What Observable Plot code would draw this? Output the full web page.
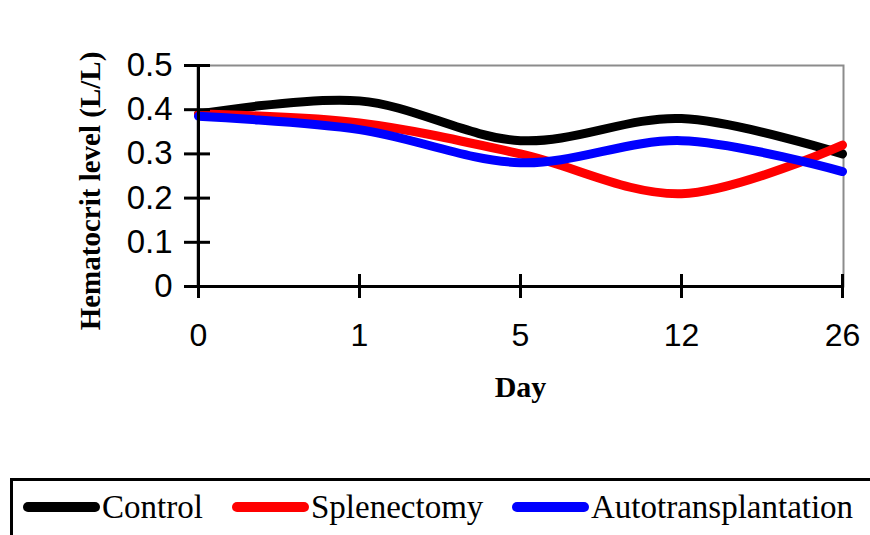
<!DOCTYPE html>
<html>
<head>
<meta charset="utf-8">
<script src="https://cdn.jsdelivr.net/npm/d3@7"></script>
<script src="https://cdn.jsdelivr.net/npm/@observablehq/plot@0.6"></script>
<style>
  html, body { margin: 0; padding: 0; background: #fff; }
  #wrap { position: relative; width: 870px; height: 535px; overflow: hidden; }
  #legend { position: absolute; left: 10px; top: 478px; width: 880px; height: 80px;
            border: 3px solid #000; box-sizing: border-box; }
  .item { position: absolute; top: 6px; height: 40px; display: flex; align-items: center;
          font-family: "Liberation Serif", "Times New Roman", serif; font-size: 33px; color: #000; }
  .sw { width: 77px; height: 10px; border-radius: 5px; margin-right: 2px; }
</style>
</head>
<body>
<div id="wrap"><div id="chart"></div><div id="legend"></div></div>
<script>
const days = ["0", "1", "5", "12", "26"];
const seriesNames = ["Control", "Splenectomy", "Autotransplantation"];
const seriesColors = ["#000000", "#ff0000", "#0000ff"];
const control = [0.39, 0.42, 0.33, 0.38, 0.30];
const splenectomy = [0.39, 0.37, 0.30, 0.21, 0.32];
const autotransplantation = [0.385, 0.355, 0.28, 0.33, 0.26];
const yTicks = [0, 0.1, 0.2, 0.3, 0.4, 0.5];
const yLabel = "Hematocrit level (L/L)";
const xLabel = "Day";

const values = [control, splenectomy, autotransplantation];
const rows = [];
seriesNames.forEach((s, i) => days.forEach((d, j) => rows.push({series: s, day: d, value: values[i][j]})));

const chart = Plot.plot({
  width: 870,
  height: 470,
  marginLeft: 197,
  marginRight: 27,
  marginTop: 65,
  marginBottom: 184,
  style: {fontFamily: "'Liberation Sans', Arial, sans-serif", fontSize: "31px", color: "#000", background: "#fff"},
  x: {type: "point", domain: days, padding: 0},
  y: {domain: [0, 0.5]},
  color: {domain: seriesNames, range: seriesColors},
  marks: [
    Plot.frame({stroke: "#8c8c8c", strokeWidth: 2}),
    Plot.lineY(rows, {x: "day", y: "value", z: "series", stroke: "series", strokeWidth: 9, curve: "cardinal"}),
    Plot.ruleY([0], {stroke: "#000", strokeWidth: 3}),
    Plot.ruleX([days[0]], {stroke: "#000", strokeWidth: 3}),
    Plot.axisY(yTicks, {tickSize: 26, dx: 13, tickPadding: 12, strokeWidth: 3, label: null, tickFormat: d => d === 0 ? "0" : d.toFixed(1), fontSize: 33}),
    Plot.axisX(days, {tickSize: 24, dy: -12, tickPadding: 25, strokeWidth: 3, label: null, fontSize: 32}),
    Plot.text([yLabel], {frameAnchor: "left", textAnchor: "middle", rotate: -90, dx: -107, dy: 15, fontWeight: "bold",
      fontFamily: "'Liberation Serif', 'Times New Roman', serif", fontSize: 29}),
    Plot.text([xLabel], {frameAnchor: "bottom", dy: 110, fontWeight: "bold",
      fontFamily: "'Liberation Serif', 'Times New Roman', serif", fontSize: 30})
  ]
});
document.getElementById("chart").appendChild(chart);

const legend = document.getElementById("legend");
const lefts = [10, 219, 499];
seriesNames.forEach((s, i) => {
  const it = document.createElement("div");
  it.className = "item";
  it.style.left = lefts[i] + "px";
  const sw = document.createElement("div");
  sw.className = "sw";
  sw.style.background = seriesColors[i];
  const t = document.createElement("span");
  t.textContent = s;
  it.appendChild(sw); it.appendChild(t);
  legend.appendChild(it);
});
</script>
</body>
</html>
